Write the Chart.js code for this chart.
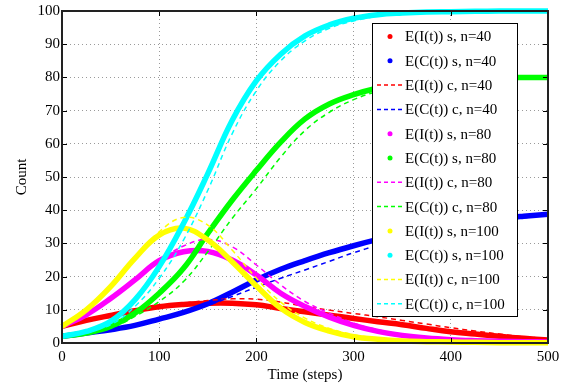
<!DOCTYPE html>
<html>
<head>
<meta charset="utf-8">
<script src="https://cdn.jsdelivr.net/npm/chart.js@4"></script>
<style>
    html, body { margin: 0; padding: 0; background: #fff; }
    #wrap { width: 579px; height: 388px; position: relative; }
</style>
</head>
<body>
<div id="wrap"><canvas id="epiChart"></canvas></div>
<script>
// time steps shared by every curve
const steps = [0, 25, 50, 75, 100, 125, 150, 175, 200, 225, 250, 275, 300, 325, 350, 375, 400, 425, 450, 475, 500];

// n = 40
const infS40 = [5, 6.8, 8.3, 9.7, 10.9, 11.6, 12.0, 12.0, 11.5, 10.4, 9.4, 8.4, 7.4, 6.4, 5.5, 4.4, 3.4, 2.7, 2.0, 1.4, 0.9];
const cumS40 = [2, 3, 4, 5.3, 7.2, 9.2, 11.8, 15.3, 19.0, 22.2, 24.8, 27.2, 29.3, 31.2, 32.9, 34.4, 35.6, 36.6, 37.5, 38.2, 38.8];
const infC40 = [5, 6.8, 8.3, 9.8, 11.0, 12.0, 12.8, 13.3, 13.2, 12.3, 11.0, 9.9, 8.9, 7.9, 6.8, 5.7, 4.6, 3.6, 2.7, 1.9, 1.3];
const cumC40 = [2, 3, 4, 5.3, 7.0, 9.0, 11.4, 14.0, 16.8, 19.5, 22.0, 24.6, 27.2, 29.4, 31.3, 32.9, 34.4, 35.7, 36.8, 37.7, 38.4];

// n = 80
const infS80 = [5, 8.5, 13.4, 19, 24.8, 27.5, 27.6, 25.0, 20.5, 15.0, 11.0, 7.8, 5.3, 3.5, 2.3, 1.5, 1.0, 0.7, 0.5, 0.4, 0.3];
const cumS80 = [2, 3, 5, 9, 15, 22.5, 33, 43, 52, 60.5, 67.5, 72, 74.8, 76.8, 78.2, 79.1, 79.6, 79.8, 79.9, 80, 80];
const infC80 = [5, 8.5, 13.4, 19, 24.8, 29.2, 31.2, 29.0, 23.5, 17.5, 12.5, 9.0, 6.0, 4.0, 2.6, 1.7, 1.1, 0.8, 0.5, 0.4, 0.3];
const cumC80 = [2, 3, 4.5, 8, 12.5, 18.5, 27.5, 37.5, 46.5, 56, 64, 69.5, 73.3, 75.8, 77.5, 78.6, 79.2, 79.6, 79.8, 79.9, 80];

// n = 100
const infS100 = [5, 10, 17, 25.5, 32.5, 34.6, 31, 24.5, 17.2, 10.5, 6.2, 3.6, 1.9, 1.1, 0.6, 0.4, 0.3, 0.2, 0.1, 0.1, 0.1];
const cumS100 = [2, 3.5, 6.5, 13, 23, 36, 51, 67, 79, 87, 92.5, 95.8, 97.8, 98.9, 99.4, 99.7, 99.8, 99.9, 100, 100, 100];
const infC100 = [5, 10, 17, 25.5, 33.5, 37.8, 35.5, 28, 19.5, 12.3, 7.5, 4.4, 2.5, 1.4, 0.8, 0.5, 0.3, 0.2, 0.1, 0.1, 0.1];
const cumC100 = [2, 3.5, 5.5, 11, 19.5, 31, 46, 63, 76, 85, 91, 94.8, 97, 98.4, 99.2, 99.6, 99.8, 99.9, 100, 100, 100];

const xTicks = [0, 100, 200, 300, 400, 500];
const yTicks = [0, 10, 20, 30, 40, 50, 60, 70, 80, 90, 100];

const series = [
    { label: 'E(I(t)) s, n=40', values: infS40, color: '#ff0000', dashed: false },
    { label: 'E(C(t)) s, n=40', values: cumS40, color: '#0000ff', dashed: false },
    { label: 'E(I(t)) c, n=40', values: infC40, color: '#ff0000', dashed: true },
    { label: 'E(C(t)) c, n=40', values: cumC40, color: '#0000ff', dashed: true },
    { label: 'E(I(t)) s, n=80', values: infS80, color: '#ff00ff', dashed: false },
    { label: 'E(C(t)) s, n=80', values: cumS80, color: '#00ff00', dashed: false },
    { label: 'E(I(t)) c, n=80', values: infC80, color: '#ff00ff', dashed: true },
    { label: 'E(C(t)) c, n=80', values: cumC80, color: '#00ff00', dashed: true },
    { label: 'E(I(t)) s, n=100', values: infS100, color: '#ffff00', dashed: false },
    { label: 'E(C(t)) s, n=100', values: cumS100, color: '#00ffff', dashed: false },
    { label: 'E(I(t)) c, n=100', values: infC100, color: '#ffff00', dashed: true },
    { label: 'E(C(t)) c, n=100', values: cumC100, color: '#00ffff', dashed: true },
];

const serif = "'Liberation Serif', 'Times New Roman', serif";

// frame, inward ticks and the legend box, matlab style
const matlabDecor = {
    id: 'matlabDecor',
    afterDraw(chart) {
        const { ctx, chartArea: a } = chart;
        const xs = chart.scales.x;
        const ys = chart.scales.y;
        ctx.save();
        ctx.strokeStyle = '#000';
        ctx.lineWidth = 1;
        ctx.setLineDash([]);
        ctx.beginPath();
        xTicks.forEach((v) => {
            const px = Math.round(xs.getPixelForValue(v)) + 0.5;
            ctx.moveTo(px, a.bottom); ctx.lineTo(px, a.bottom - 5);
            ctx.moveTo(px, a.top); ctx.lineTo(px, a.top + 5);
        });
        yTicks.forEach((v) => {
            const py = Math.round(ys.getPixelForValue(v)) + 0.5;
            ctx.moveTo(a.left, py); ctx.lineTo(a.left + 5, py);
            ctx.moveTo(a.right, py); ctx.lineTo(a.right - 5, py);
        });
        ctx.stroke();
        ctx.strokeStyle = '#222';
        ctx.lineWidth = 2;
        ctx.strokeRect(a.left, a.top, a.right - a.left, a.bottom - a.top);

        // legend
        const bx = 372, by = 23, bw = 145, bh = 293;
        ctx.fillStyle = '#fff';
        ctx.fillRect(bx, by, bw, bh);
        ctx.strokeStyle = '#000';
        ctx.lineWidth = 1;
        ctx.strokeRect(bx + 0.5, by + 0.5, bw, bh);
        ctx.font = '15px ' + serif;
        ctx.textBaseline = 'middle';
        ctx.textAlign = 'left';
        series.forEach((s, i) => {
            const cy = 36.5 + i * 24.3;
            if (s.dashed) {
                ctx.strokeStyle = s.color;
                ctx.lineWidth = 1.5;
                ctx.setLineDash([4, 3]);
                ctx.beginPath();
                ctx.moveTo(377, cy); ctx.lineTo(403, cy);
                ctx.stroke();
                ctx.setLineDash([]);
            } else {
                ctx.fillStyle = s.color;
                ctx.beginPath();
                ctx.arc(390, cy, 2.5, 0, Math.PI * 2);
                ctx.fill();
            }
            ctx.fillStyle = '#000';
            ctx.fillText(s.label, 405, cy + 1);
        });
        ctx.restore();
    },
};

const initChart = () => {
    const canvas = document.getElementById('epiChart');
    if (!canvas) {
        return;
    }

    const datasets = series.map((s, i) => ({
        label: s.label,
        data: steps.map((t, k) => ({ x: t, y: s.values[k] })),
        borderColor: s.color,
        backgroundColor: s.color,
        borderWidth: s.dashed ? 1.5 : 5.5,
        borderDash: s.dashed ? [5, 4] : [],
        pointRadius: 0,
        tension: 0.4,
        fill: false,
        clip: 6,
        order: -i,
    }));

    new Chart(canvas, {
        type: 'line',
        data: { datasets },
        plugins: [matlabDecor],
        options: {
            responsive: true,
            maintainAspectRatio: false,
            animation: false,
            layout: { padding: { left: 0, right: 31, top: 6, bottom: 0 } },
            plugins: {
                legend: { display: false },
                tooltip: { enabled: false },
            },
            scales: {
                x: {
                    type: 'linear',
                    min: 0,
                    max: 500,
                    afterBuildTicks: (scale) => { scale.ticks = xTicks.map((v) => ({ value: v })); },
                    afterFit: (scale) => { scale.height = 45; },
                    ticks: { color: '#000', padding: 5, font: { family: serif, size: 15 }, maxRotation: 0 },
                    grid: { color: '#9a9a9a', drawTicks: false },
                    border: { display: false, dash: [1, 3] },
                    title: {
                        display: true,
                        text: 'Time (steps)',
                        color: '#000',
                        font: { family: serif, size: 15 },
                        padding: { top: 0, bottom: 4 },
                    },
                },
                y: {
                    min: 0,
                    max: 100,
                    afterBuildTicks: (scale) => { scale.ticks = yTicks.map((v) => ({ value: v })); },
                    afterFit: (scale) => { scale.width = 62; },
                    ticks: { color: '#000', padding: 2, font: { family: serif, size: 15 } },
                    grid: { color: '#9a9a9a', drawTicks: false },
                    border: { display: false, dash: [1, 3] },
                    title: {
                        display: true,
                        text: 'Count',
                        color: '#000',
                        font: { family: serif, size: 15 },
                        padding: { top: 13, bottom: 0 },
                    },
                },
            },
        },
    });
};

if (document.readyState === 'loading') {
    document.addEventListener('DOMContentLoaded', initChart, { once: true });
} else {
    initChart();
}
</script>
</body>
</html>
